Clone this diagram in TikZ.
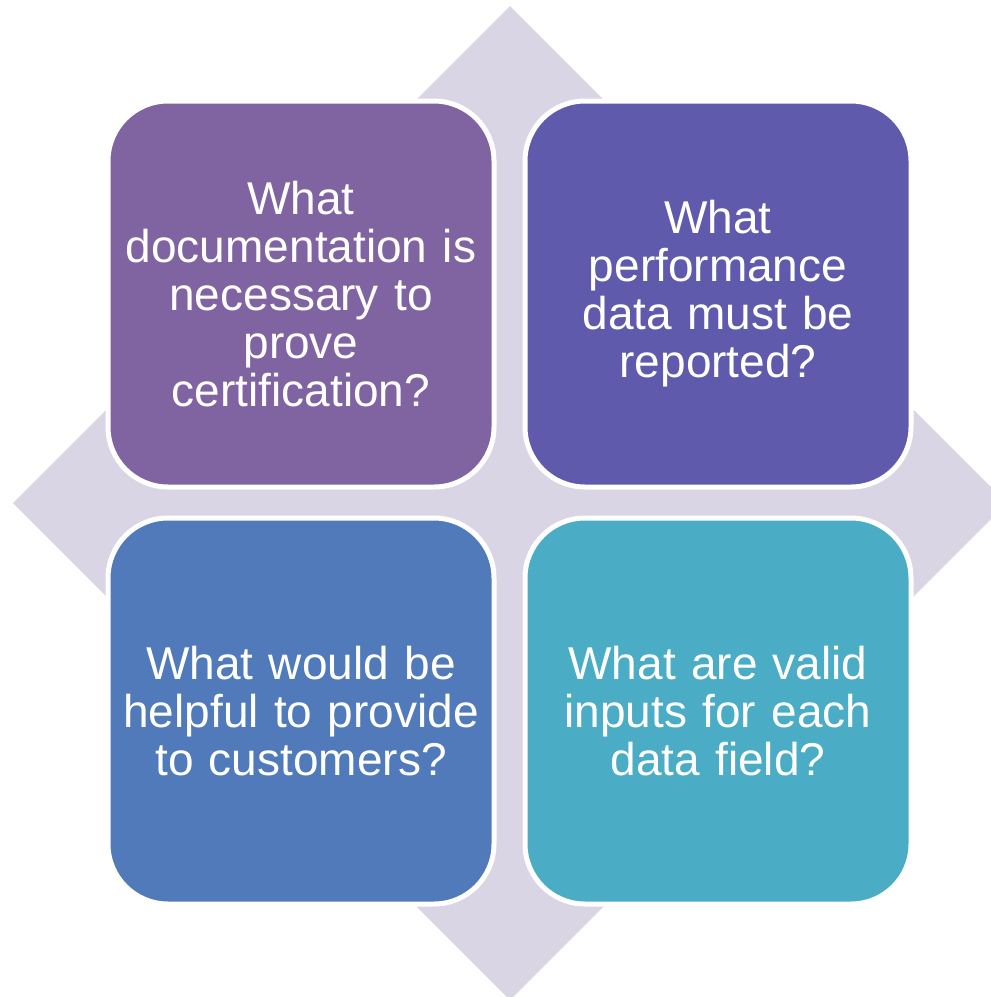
\documentclass[tikz,border=0pt]{standalone}
\usepackage{fontspec}
\setmainfont{Liberation Sans}
\definecolor{cTL}{HTML}{8064A2}
\definecolor{cTR}{HTML}{5F5AAC}
\definecolor{cBL}{HTML}{507ABA}
\definecolor{cBR}{HTML}{4BACC6}
\definecolor{cDia}{HTML}{D9D5E4}
\tikzset{
  qbox/.style={draw=white, line width=5pt, rounded corners=60pt, minimum width=386pt, minimum height=386pt, inner sep=0pt, text=white, align=center, font=\fontsize{46}{48}\selectfont, text width=370pt},
}
\begin{document}
\begin{tikzpicture}[x=1pt,y=-1pt]
\useasboundingbox (0,0) rectangle (991,997);
\begin{scope}
\clip (0,0) rectangle (991,997);
\fill[cDia] (510,6) -- (1007,503) -- (510,1000) -- (13,503) -- cycle;
\end{scope}
\node[qbox, fill=cTL] (tl) at (301,294) {What\\documentation is\\necessary to\\prove\\certification?};
\node[qbox, fill=cTR] (tr) at (718,294) {What\\performance\\data must be\\reported?};
\node[qbox, fill=cBL] (bl) at (301,711) {What would be\\helpful to provide\\to customers?};
\node[qbox, fill=cBR] (br) at (718,711) {What are valid\\inputs for each\\data field?};
\end{tikzpicture}
\end{document}
